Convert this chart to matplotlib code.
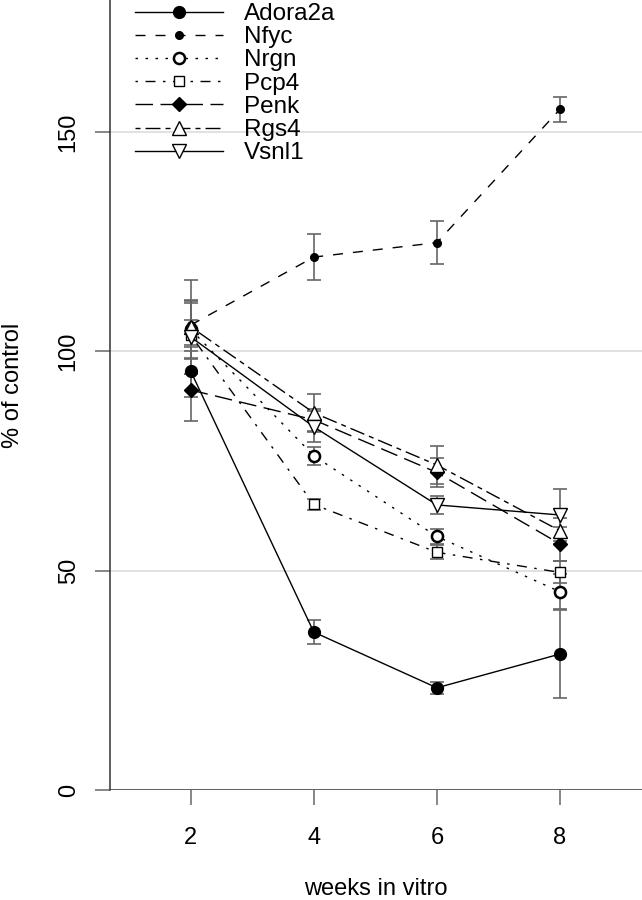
import matplotlib
matplotlib.use("Agg")
import matplotlib.pyplot as plt
import numpy as np

plt.rcParams['font.family'] = ['Liberation Sans', 'DejaVu Sans']

weeks = [2, 4, 6, 8]
genes = ["Adora2a", "Nfyc", "Nrgn", "Pcp4", "Penk", "Rgs4", "Vsnl1"]

adora2a = [95.5, 36.0, 23.3, 31.0]
adora2a_se = [6.0, 2.7, 1.3, 10.0]
nfyc = [106.0, 121.5, 124.8, 155.2]
nfyc_se = [5.0, 5.3, 4.9, 2.9]
nrgn = [105.0, 76.2, 57.8, 45.2]
nrgn_se = [6.5, 2.0, 1.6, 4.0]
pcp4 = [103.7, 65.1, 54.2, 49.6]
pcp4_se = [3.5, 1.3, 1.6, 2.5]
penk = [91.2, 84.4, 72.4, 56.1]
penk_se = [7.0, 2.5, 3.4, 3.8]
rgs4 = [105.6, 86.0, 74.1, 59.1]
rgs4_se = [10.7, 4.4, 4.3, 3.0]
vsnl1 = [103.3, 82.8, 65.0, 62.7]
vsnl1_se = [8.5, 3.5, 2.0, 6.0]

yticks = [0, 50, 100, 150]
xticks = [2, 4, 6, 8]

values = [adora2a, nfyc, nrgn, pcp4, penk, rgs4, vsnl1]
errors = [adora2a_se, nfyc_se, nrgn_se, pcp4_se, penk_se, rgs4_se, vsnl1_se]

u = 1.8
styles = [
    dict(ls='-', marker='o', ms=8.5, mfc='black', mec='black', mew=1.0),
    dict(ls=(0, (4 * u, 4 * u)), marker='o', ms=5.5, mfc='black', mec='black', mew=1.0),
    dict(ls=(0, (1 * u, 3 * u)), marker='o', ms=8.0, mfc='white', mec='black', mew=1.8),
    dict(ls=(0, (1 * u, 3 * u, 4 * u, 3 * u)), marker='s', ms=7.0, mfc='white', mec='black', mew=1.0),
    dict(ls=(0, (7 * u, 3 * u)), marker='D', ms=6.8, mfc='black', mec='black', mew=1.0),
    dict(ls=(0, (2 * u, 2 * u, 6 * u, 2 * u)), marker='^', ms=10.5, mfc='white', mec='black', mew=1.0),
    dict(ls='-', marker='v', ms=10.5, mfc='white', mec='black', mew=1.0),
]

W, H = 642, 900
fig = plt.figure(figsize=(W / 100, H / 100), dpi=100)
left, bottom = 110, 790
ax = fig.add_axes([left / W, (H - bottom) / H, 1 - left / W, bottom / H])

px_per_unit = 4.386
ymax = bottom / px_per_unit
px_per_week = 61.55
xmin = 2 - (190.7 - left) / px_per_week
xmax = 2 + (W - 190.7) / px_per_week
ax.set_xlim(xmin, xmax)
ax.set_ylim(0, ymax)

for yv in yticks[1:]:
    ax.axhline(yv, color='#d9d9d9', lw=1.1, zorder=1)
ax.axhline(0, color='#333333', lw=1.1, zorder=1)

for vals, errs in zip(values, errors):
    ax.errorbar(weeks, vals, yerr=errs, fmt='none', ecolor='#666666',
                elinewidth=1.2, capsize=4.7, capthick=1.2, zorder=2)

handles = []
for name, vals, st in zip(genes, values, styles):
    h, = ax.plot(weeks, vals, color='black', lw=1.0, label=name, zorder=3,
                 linestyle=st['ls'], marker=st['marker'], markersize=st['ms'],
                 markerfacecolor=st['mfc'], markeredgecolor=st['mec'],
                 markeredgewidth=st['mew'])
    handles.append(h)

for s in ['top', 'right', 'bottom']:
    ax.spines[s].set_visible(False)
ax.spines['left'].set_color('#333333')
ax.spines['left'].set_linewidth(1.1)

ax.set_xticks(xticks)
ax.set_xticklabels([str(x) for x in xticks])
ax.set_yticks(yticks)
ax.set_yticklabels([str(y) for y in yticks], rotation=90, va='center')
ax.tick_params(axis='x', length=10.8, width=1.1, color='#666666', pad=15.5,
               labelsize=17, direction='out')
ax.tick_params(axis='y', length=10.8, width=1.1, color='#666666', pad=11,
               labelsize=17, direction='out')

ax.set_xlabel('weeks in vitro', fontsize=17)
ax.xaxis.set_label_coords(0.5, (bottom - 889) / bottom)
ax.xaxis.label.set_va('center')
ax.set_ylabel('% of control', fontsize=17)
ax.yaxis.set_label_coords((13 - left) / (W - left), (bottom - 385) / bottom)
ax.yaxis.label.set_va('center')

leg = fig.legend(handles=handles, labels=genes, loc='upper left',
                 bbox_to_anchor=(135 / W, 1 - 3 / H), frameon=False,
                 fontsize=17.5, handlelength=3.6, handletextpad=0.9,
                 labelspacing=0.05, borderpad=0, borderaxespad=0)

fig.savefig('out.png', dpi=100)
